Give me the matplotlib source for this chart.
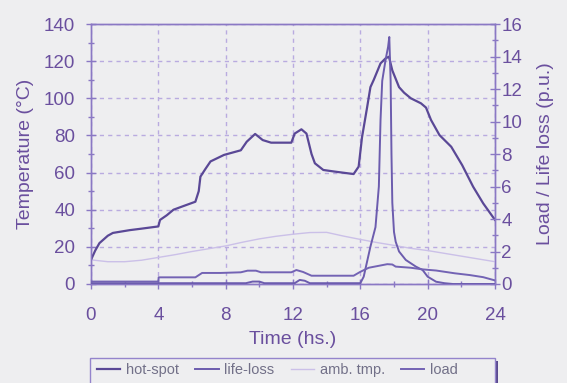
import matplotlib
matplotlib.use("Agg")
import matplotlib.pyplot as plt
from matplotlib.ticker import MultipleLocator
from matplotlib.patches import Rectangle

# ---- data ----
hot_t = [0, 0.25, 0.5, 1.0, 1.3, 2.3, 3.0, 4.0, 4.1, 4.5, 4.9, 5.5, 6.2, 6.4, 6.5, 6.8, 7.1,
         7.9, 8.9, 9.25, 9.75, 10.2, 10.7, 11.9, 12.1, 12.5, 12.8, 13.1, 13.3, 13.8, 14.5,
         15.6, 15.9, 16.1, 16.4, 16.6, 16.8, 17.2, 17.5, 17.7, 17.9, 18.3, 18.6, 19.0, 19.6,
         19.9, 20.2, 20.7, 21.4, 22.05, 22.7, 23.3, 24.0]
hot_v = [13, 18, 22, 26, 27.5, 29, 29.8, 31, 34.5, 37, 40, 42, 44.3, 50, 57.8, 62, 66,
         69.5, 72, 76.6, 80.8, 77.5, 76.1, 76.1, 81, 83.3, 81, 70, 65, 61.4, 60.5,
         59.2, 63.2, 79, 95, 106, 110, 118.8, 121.5, 122.4, 115, 106, 103, 100, 97.3,
         95, 88.3, 80.2, 73.9, 64, 52.4, 43.4, 34.5]

life_t = [0, 4, 9.2, 9.6, 10.0, 10.3, 12.1, 12.4, 12.7, 13.0, 16.0, 16.2, 16.6, 16.9, 17.1,
          17.2, 17.3, 17.5, 17.65, 17.72, 17.8, 17.85, 17.9, 18.0, 18.1, 18.3, 18.7, 19.3,
          19.7, 20.0, 20.5, 21.0, 21.5, 24]
life_v = [0.05, 0.05, 0.05, 0.15, 0.15, 0.05, 0.05, 0.25, 0.2, 0.05, 0.05, 0.45, 2.3, 3.5, 6.0,
          10.1, 12.5, 13.8, 14.6, 15.2, 12.5, 8.0, 5.0, 3.2, 2.6, 2.0, 1.48, 1.07,
          0.86, 0.45, 0.14, 0.05, 0.0, 0.0]

amb_t = list(range(0, 25))
amb_v = [13, 12, 12, 12.8, 14.3, 15.8, 17.5, 19, 20.5, 22.5, 24.3, 25.7, 26.8, 27.7, 27.8,
         25.8, 24, 22.3, 20.8, 19.2, 18, 16.5, 15, 13.5, 12]

load_t = [0, 4.0, 4.02, 6.2, 6.6, 7.7, 8.9, 9.3, 9.8, 10.1, 11.9, 12.2, 12.6, 13.1, 15.6,
          16.0, 16.5, 17.0, 17.6, 17.9, 18.1, 19.0, 19.7, 20.5, 21.6, 22.5, 23.3, 24]
load_v = [0.15, 0.15, 0.41, 0.41, 0.68, 0.68, 0.72, 0.82, 0.82, 0.72, 0.72, 0.86, 0.74, 0.51,
          0.51, 0.75, 1.0, 1.1, 1.22, 1.2, 1.07, 1.0, 0.9, 0.83, 0.66, 0.55, 0.42, 0.22]

x_ticks = [0, 4, 8, 12, 16, 20, 24]
left_ticks = [0, 20, 40, 60, 80, 100, 120, 140]
right_ticks = [0, 2, 4, 6, 8, 10, 12, 14, 16]
series_names = ["hot-spot", "life-loss", "amb. tmp.", "load"]

# ---- style ----
plt.rcParams['font.family'] = ['Liberation Sans', 'DejaVu Sans']
BG = '#eeeef0'
TXT = '#6a4f9e'
AX = '#8a78c4'
GRID = '#b9abe0'
C_HOT = '#5a4896'
C_LIFE = '#6c5cae'
C_AMB = '#cbc0e8'
C_LOAD = '#7363b4'

W, H = 567, 383
fig = plt.figure(figsize=(W/100, H/100), dpi=100, facecolor=BG)
ax = fig.add_axes([91/W, 1-284/H, (495-91)/W, (284-24)/H])
ax.set_facecolor(BG)
ax2 = ax.twinx()

l1, = ax.plot(hot_t, hot_v, color=C_HOT, lw=1.6, zorder=4)
l3, = ax.plot(amb_t, amb_v, color=C_AMB, lw=1.0, zorder=3)
l2, = ax2.plot(life_t, life_v, color=C_LIFE, lw=1.4, zorder=4)
l4, = ax2.plot(load_t, load_v, color=C_LOAD, lw=1.4, zorder=4)

ax.set_xlim(0, 24)
ax.set_ylim(0, 140)
ax2.set_ylim(0, 16)
ax.set_xticks(x_ticks)
ax.set_yticks(left_ticks)
ax2.set_yticks(right_ticks)
ax.xaxis.set_minor_locator(MultipleLocator(2))
ax.yaxis.set_minor_locator(MultipleLocator(10))
ax2.yaxis.set_minor_locator(MultipleLocator(1))

for sp in list(ax.spines.values()) + list(ax2.spines.values()):
    sp.set_color(AX)
    sp.set_linewidth(1.0)

ax.grid(True, which='major', color=GRID, linestyle=(0, (3, 3)), linewidth=1.0)

ax.tick_params(axis='x', which='major', direction='inout', length=7, width=1,
               color=AX, labelcolor=TXT, labelsize=13.5, pad=13)
ax.tick_params(axis='x', which='minor', direction='inout', length=5, width=1, color=AX)
ax.tick_params(axis='y', which='major', direction='inout', length=7, width=1,
               color=AX, labelcolor=TXT, labelsize=13.5, pad=8)
ax.tick_params(axis='y', which='minor', direction='inout', length=5, width=1, color=AX)
ax2.tick_params(axis='y', which='major', direction='inout', length=7, width=1,
                color=AX, labelcolor=TXT, labelsize=13.5, pad=1)
ax2.tick_params(axis='y', which='minor', direction='inout', length=5, width=1, color=AX)

ax.set_xlabel("Time (hs.)", color=TXT, fontsize=14, labelpad=5)
ax.set_ylabel("Temperature (°C)", color=TXT, fontsize=14, labelpad=7)
ax2.set_ylabel("Load / Life loss (p.u.)", color=TXT, fontsize=14, labelpad=11)

# legend frame (box runs off the bottom of the image, with a dark shadow on the right)
shadow = Rectangle((93/W, -0.1), 405/W, 1-358/H + 0.1 - 3/H, transform=fig.transFigure,
                   facecolor='#5a4a90', edgecolor='none', zorder=1)
frame = Rectangle((90/W, -0.1), 405/W, 1-358/H + 0.1, transform=fig.transFigure,
                  facecolor=BG, edgecolor='#9484cc', lw=1.0, zorder=2)
fig.patches.extend([shadow, frame])

leg = fig.legend([l1, l2, l3, l4], series_names, loc='upper left',
                 bbox_to_anchor=(92/W, 1-358/H), bbox_transform=fig.transFigure,
                 ncol=4, fontsize=10.5, frameon=False, borderaxespad=0,
                 handlelength=1.6, handletextpad=0.4, columnspacing=1.1,
                 borderpad=0.35)
leg.set_zorder(5)
for t in leg.get_texts():
    t.set_color('#727088')

fig.savefig("out.png", dpi=100, facecolor=BG)
